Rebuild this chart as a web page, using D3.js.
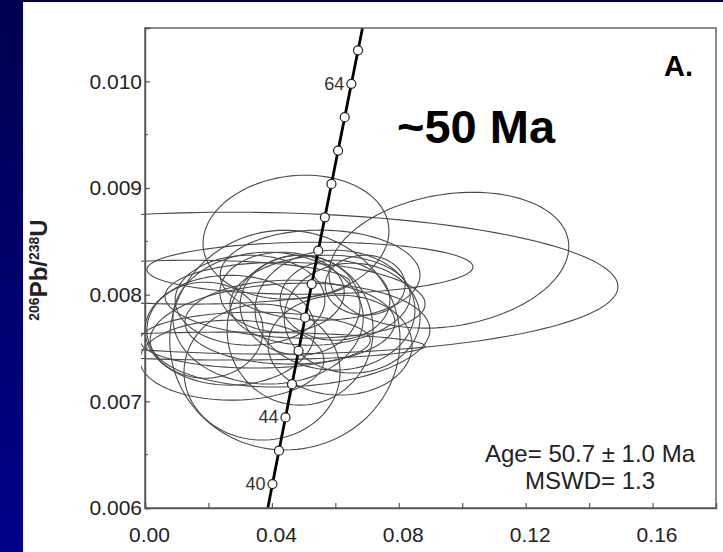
<!DOCTYPE html>
<html>
<head>
<meta charset="utf-8">
<script src="https://cdn.jsdelivr.net/npm/d3@7"></script>
<style>
  body { margin: 0; background: #000060; }
  svg { display: block; font-family: Arial, "Liberation Sans", Helvetica, sans-serif; }
</style>
</head>
<body>
<div id="chart"></div>
<script>
// concordia ages (Ma) with their 207Pb/235U and 206Pb/238U ratios
let ages = [38, 40, 42, 44, 46, 48, 50, 52, 54, 56, 58, 60, 62, 64, 66, 68]
let concX = [0.03813, 0.04018, 0.04223, 0.04429, 0.04634, 0.04841, 0.05047, 0.05255,
             0.05462, 0.05670, 0.05878, 0.06087, 0.06296, 0.06506, 0.06716, 0.06926]
let concY = [0.005912, 0.006224, 0.006537, 0.006849, 0.007161, 0.007474, 0.007786, 0.008099,
             0.008412, 0.008725, 0.009038, 0.009351, 0.009664, 0.009977, 0.010291, 0.010604]
let labelledAges = [40, 44, 64]

// error ellipses: centre, half axes and error correlation
let ellX   = [0.0476, 0.0331, 0.0958, 0.0520, 0.0441, 0.0369, 0.0489, 0.0268, 0.0552,
              0.0489, 0.0599, 0.0457, 0.0388, 0.0653, 0.0189, 0.0432, 0.0347, 0.0599,
              0.0142, 0.0268, 0.0694, 0.0457, 0.0274, 0.0615, 0.0473, 0.0552, 0.0331]
let ellY   = [0.008539, 0.008108, 0.008323, 0.008248, 0.007574, 0.007274, 0.007667, 0.007667, 0.007948,
              0.007902, 0.007855, 0.007742, 0.007780, 0.007780, 0.007667, 0.008023, 0.007574, 0.007948,
              0.008117, 0.007518, 0.008089, 0.007621, 0.007386, 0.007527, 0.007948, 0.008183, 0.007948]
let ellSx  = [0.0293, 0.1160, 0.0378, 0.0514, 0.0363, 0.0246, 0.0230, 0.0268, 0.0284,
              0.0189, 0.0252, 0.0331, 0.0300, 0.0214, 0.0183, 0.0196, 0.0363, 0.0173,
              0.0504, 0.0615, 0.0126, 0.0441, 0.0290, 0.0227, 0.0410, 0.0315, 0.0236]
let ellSy  = [0.000581, 0.000665, 0.000637, 0.000244, 0.001030, 0.000637, 0.000703, 0.000515, 0.000422,
              0.000468, 0.000562, 0.000393, 0.000618, 0.000515, 0.000450, 0.000375, 0.000262, 0.000375,
              0.000206, 0.000131, 0.000281, 0.000487, 0.000375, 0.000468, 0.000356, 0.000422, 0.000422]
let ellRho = [0.1, -0.05, 0.2, 0.05, 0, 0, 0, 0, 0.1,
              0, 0, 0, 0, 0, 0, 0, 0, 0,
              0, 0, 0, 0.1, 0, 0, -0.1, 0, 0]

let xTicks = [0, 0.02, 0.04, 0.06, 0.08, 0.10, 0.12, 0.14, 0.16]
let yTicks = [0.006, 0.007, 0.008, 0.009, 0.010]
let yMinor = [0.0065, 0.0075, 0.0085, 0.0095, 0.0105]

let width = 723
let height = 552
let plot = {left: 145, right: 716, top: 28, bottom: 508}

d3.selectAll('svg').remove()

let svg = d3.select('div#chart')
  .append('svg')
    .attr('width', width)
    .attr('height', height)

// slide background
let grad = svg.append('defs').append('linearGradient')
  .attr('id', 'bg').attr('x1', 0).attr('y1', 0).attr('x2', 0).attr('y2', 1)
grad.append('stop').attr('offset', 0).attr('stop-color', '#000050')
grad.append('stop').attr('offset', 1).attr('stop-color', '#00008a')

svg.append('rect')
  .attr('width', width).attr('height', height)
  .attr('fill', 'url(#bg)')

svg.append('rect')
  .attr('x', 23).attr('y', 2)
  .attr('width', width - 23).attr('height', height - 2)
  .attr('fill', 'white')

svg.append('clipPath').attr('id', 'clip')
  .append('rect')
    .attr('x', plot.left - 4).attr('y', plot.top)
    .attr('width', plot.right - plot.left + 4).attr('height', plot.bottom - plot.top)

let x = d3.scaleLinear().domain([0, 0.18]).range([plot.left, plot.right])
let y = d3.scaleLinear().domain([0.006, 0.0105]).range([plot.bottom, plot.top])

// ellipses
let ellipses = ellX.map((cx, i) => ({cx: cx, cy: ellY[i], sx: ellSx[i], sy: ellSy[i], rho: ellRho[i]}))
let line = d3.line().x(d => x(d[0])).y(d => y(d[1]))

function ellipsePoints(e) {
  let pts = []
  let k = Math.sqrt(1 - e.rho * e.rho)
  for (let i = 0; i <= 120; i++) {
    let t = i / 120 * 2 * Math.PI
    pts.push([e.cx + e.sx * Math.cos(t), e.cy + e.sy * (e.rho * Math.cos(t) + k * Math.sin(t))])
  }
  return pts
}

svg.append('g')
  .attr('clip-path', 'url(#clip)')
  .selectAll('path')
  .data(ellipses)
  .enter().append('path')
    .attr('d', d => line(ellipsePoints(d)))
    .attr('fill', 'none')
    .attr('stroke', '#4a4a4a')
    .attr('stroke-width', 1.1)

// concordia curve
let conc = ages.map((a, i) => ({age: a, x: concX[i], y: concY[i]}))

svg.append('path')
  .attr('clip-path', 'url(#clip)')
  .attr('d', d3.line().x(d => x(d.x)).y(d => y(d.y)).curve(d3.curveCatmullRom)(conc))
  .attr('fill', 'none')
  .attr('stroke', 'black')
  .attr('stroke-width', 2.8)

let marks = conc.filter(d => d.y >= 0.006 && d.y <= 0.0105)

svg.append('g')
  .selectAll('circle')
  .data(marks)
  .enter().append('circle')
    .attr('cx', d => x(d.x))
    .attr('cy', d => y(d.y))
    .attr('r', 4.5)
    .attr('fill', 'white')
    .attr('stroke', '#222')
    .attr('stroke-width', 1.2)

svg.append('g')
  .selectAll('text')
  .data(marks.filter(d => labelledAges.includes(d.age)))
  .enter().append('text')
    .attr('x', d => x(d.x) - 7)
    .attr('y', d => y(d.y) + 6)
    .attr('text-anchor', 'end')
    .attr('font-size', 18)
    .attr('fill', '#333')
    .text(d => d.age)

// frame
svg.append('rect')
  .attr('x', plot.left).attr('y', plot.top)
  .attr('width', plot.right - plot.left).attr('height', plot.bottom - plot.top)
  .attr('fill', 'none')
  .attr('stroke', '#666')
  .attr('stroke-width', 1.5)

// axes
let xAxis = svg.append('g')
  .attr('transform', `translate(0, ${plot.bottom})`)
  .call(d3.axisBottom(x)
    .tickValues(xTicks)
    .tickSize(-5)
    .tickPadding(19)
    .tickFormat(d => Math.round(d * 100) % 4 === 0 ? d3.format('.2f')(d) : ''))
xAxis.select('.domain').attr('stroke', '#555').attr('stroke-width', 1.5)
xAxis.selectAll('line').attr('stroke', '#555').attr('stroke-width', 1.2)
xAxis.selectAll('text')
  .attr('font-size', 21).attr('fill', '#222').attr('dx', 4)
  .attr('font-family', 'Arial, "Liberation Sans", sans-serif')

let yAxis = svg.append('g')
  .attr('transform', `translate(${plot.left}, 0)`)
  .call(d3.axisLeft(y)
    .tickValues(yTicks)
    .tickSize(-5)
    .tickPadding(3)
    .tickFormat(d3.format('.3f')))
yAxis.select('.domain').attr('stroke', '#555').attr('stroke-width', 1.5)
yAxis.selectAll('line').attr('stroke', '#555').attr('stroke-width', 1.2)
yAxis.selectAll('text')
  .attr('font-size', 21).attr('fill', '#222')
  .attr('font-family', 'Arial, "Liberation Sans", sans-serif')

svg.append('g')
  .selectAll('line')
  .data(yMinor)
  .enter().append('line')
    .attr('x1', plot.left).attr('x2', plot.left + 3)
    .attr('y1', d => y(d)).attr('y2', d => y(d))
    .attr('stroke', '#555')

// y axis title
let ylab = svg.append('text')
  .attr('transform', 'translate(47, 270) rotate(-90)')
  .attr('text-anchor', 'middle')
  .attr('font-weight', 'bold')
  .attr('fill', '#222')
ylab.append('tspan').attr('font-size', 14).attr('dy', -8).text('206')
ylab.append('tspan').attr('font-size', 24).attr('dy', 8).text('Pb/')
ylab.append('tspan').attr('font-size', 14).attr('dy', -8).text('238')
ylab.append('tspan').attr('font-size', 24).attr('dy', 8).text('U')

// annotations
svg.append('text')
  .attr('x', 397).attr('y', 143)
  .attr('font-size', 47).attr('font-weight', 'bold')
  .text('~50 Ma')

svg.append('text')
  .attr('x', 693).attr('y', 76)
  .attr('text-anchor', 'end')
  .attr('font-size', 29).attr('font-weight', 'bold')
  .text('A.')

svg.append('text')
  .attr('x', 590).attr('y', 462)
  .attr('text-anchor', 'middle')
  .attr('font-size', 24).attr('fill', '#222')
  .text('Age= 50.7 ± 1.0 Ma')

svg.append('text')
  .attr('x', 590).attr('y', 489)
  .attr('text-anchor', 'middle')
  .attr('font-size', 24).attr('fill', '#222')
  .text('MSWD= 1.3')
</script>
</body>
</html>
